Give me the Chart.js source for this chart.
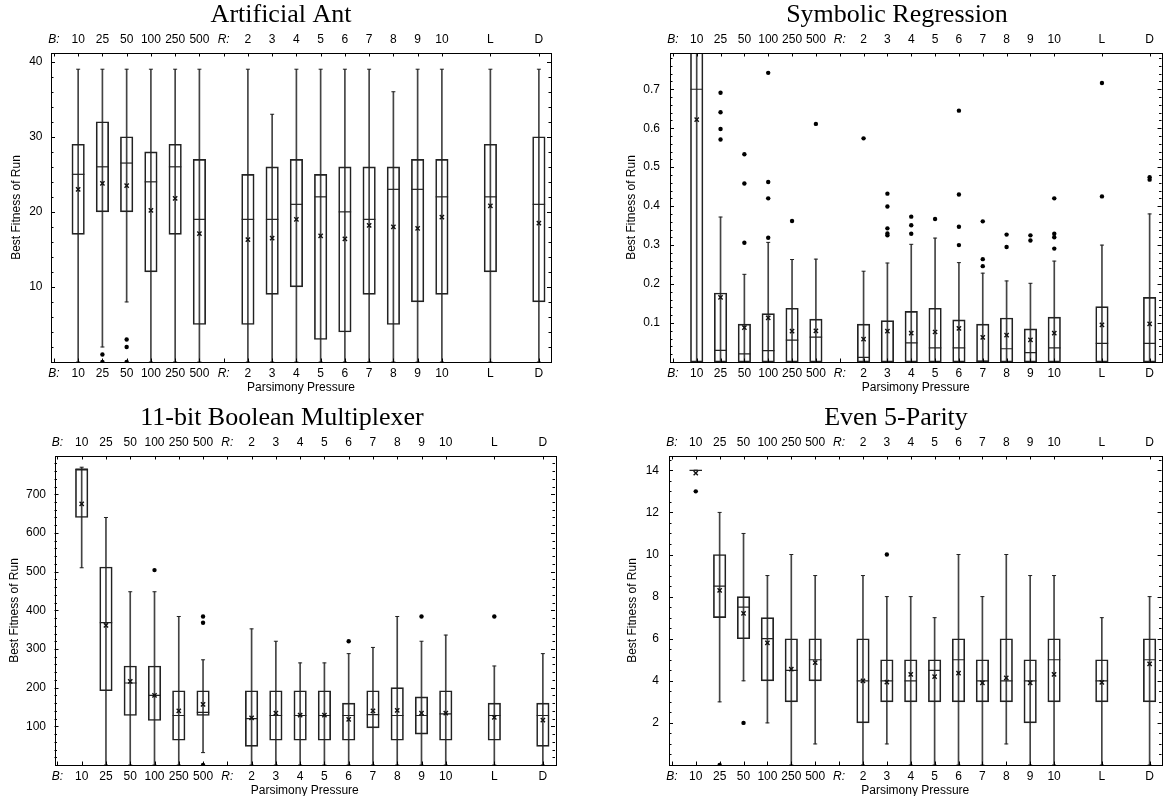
<!DOCTYPE html>
<html>
<head>
<meta charset="utf-8">
<title>Best fitness of run vs parsimony pressure</title>
<script src="https://cdn.jsdelivr.net/npm/chart.js@4.4.1/dist/chart.umd.min.js"></script>
<style>
  html, body { margin: 0; padding: 0; background: #fff; overflow: hidden; width: 1169px; height: 796px; }
  canvas { position: absolute; }
</style>
</head>
<body>
<canvas id="ant" width="580" height="395" style="left:0px;top:0px"></canvas>
<canvas id="reg" width="584" height="395" style="left:585px;top:0px"></canvas>
<canvas id="mux" width="580" height="395" style="left:0px;top:403px"></canvas>
<canvas id="par" width="584" height="395" style="left:585px;top:403px"></canvas>
<script>
// category positions on the x axis (0 = "B:", 7 = "R:")
const boxPos = [1, 2, 3, 4, 5, 6, 8, 9, 10, 11, 12, 13, 14, 15, 16, 18, 20];
const tickPos = [0, 1, 2, 3, 4, 5, 6, 7, 8, 9, 10, 11, 12, 13, 14, 15, 16, 18, 20];
const tickLabels = ['B:', '10', '25', '50', '100', '250', '500', 'R:', '2', '3', '4', '5', '6', '7', '8', '9', '10', 'L', 'D'];

// Artificial Ant
const antHi   = [39, 39, 39, 39, 39, 39, 39, 33, 39, 39, 39, 39, 36, 39, 39, 39, 39];
const antQ3   = [29, 32, 30, 28, 29, 27, 25, 26, 27, 25, 26, 26, 26, 27, 27, 29, 30];
const antMed  = [25, 26, 26.5, 24, 26, 19, 19, 19, 21, 22, 20, 19, 23, 23, 22, 22, 21];
const antQ1   = [17, 20, 20, 12, 17, 5, 5, 9, 10, 3, 4, 9, 5, 8, 9, 12, 8];
const antLo   = [0, 2, 8, 0, 0, 0, 0, 0, 0, 0, 0, 0, 0, 0, 0, 0, 0];
const antMean = [23, 23.8, 23.5, 20.2, 21.8, 17.1, 16.3, 16.5, 19.0, 16.8, 16.4, 18.2, 18.0, 17.8, 19.3, 20.8, 18.5];
const antOut  = [[2, 1], [2, 0], [3, 3], [3, 2], [3, 0]];
const antYTicks = [10, 20, 30, 40];
const antYLabels = ['10', '20', '30', '40'];

// Symbolic Regression
const regHi   = [1.0, 0.372, 0.225, 0.307, 0.263, 0.264, 0.233, 0.254, 0.302, 0.318, 0.255, 0.228, 0.208, 0.202, 0.259, 0.300, 0.380];
const regQ3   = [0.95, 0.177, 0.097, 0.124, 0.138, 0.110, 0.097, 0.106, 0.130, 0.138, 0.108, 0.097, 0.113, 0.085, 0.115, 0.142, 0.166];
const regMed  = [0.70, 0.030, 0.021, 0.029, 0.056, 0.064, 0.012, 0.0, 0.049, 0.036, 0.036, 0.002, 0.034, 0.024, 0.036, 0.048, 0.048];
const regQ1   = [0, 0, 0, 0, 0, 0, 0, 0, 0, 0, 0, 0, 0, 0, 0, 0, 0];
const regLo   = [0, 0, 0, 0, 0, 0, 0, 0, 0, 0, 0, 0, 0, 0, 0, 0, 0];
const regMean = [0.622, 0.166, 0.088, 0.113, 0.079, 0.080, 0.059, 0.079, 0.074, 0.077, 0.086, 0.063, 0.069, 0.057, 0.074, 0.095, 0.098];
const regOut  = [[2, 0.691], [2, 0.641], [2, 0.598], [2, 0.571], [3, 0.306], [3, 0.458], [3, 0.533],
  [4, 0.742], [4, 0.462], [4, 0.420], [4, 0.319], [5, 0.362], [6, 0.611], [8, 0.574],
  [9, 0.432], [9, 0.399], [9, 0.343], [9, 0.330], [9, 0.325], [10, 0.373], [10, 0.351], [10, 0.329],
  [11, 0.367], [12, 0.645], [12, 0.430], [12, 0.347], [12, 0.300], [13, 0.361], [13, 0.264], [13, 0.246],
  [14, 0.327], [14, 0.295], [15, 0.325], [15, 0.312], [16, 0.420], [16, 0.329], [16, 0.320], [16, 0.291],
  [18, 0.716], [18, 0.425], [20, 0.474], [20, 0.468]];
const regYTicks = [0.1, 0.2, 0.3, 0.4, 0.5, 0.6, 0.7];
const regYLabels = ['0.1', '0.2', '0.3', '0.4', '0.5', '0.6', '0.7'];

// 11-bit Boolean Multiplexer
const muxHi   = [770, 640, 448, 448, 384, 272, 352, 320, 264, 264, 288, 304, 384, 320, 336, 256, 288];
const muxQ3   = [765, 512, 256, 256, 192, 192, 192, 192, 192, 192, 160, 192, 200, 176, 192, 160, 160];
const muxMed  = [765, 368, 212, 180, 128, 136, 120, 128, 128, 128, 128, 130, 128, 128, 132, 128, 128];
const muxQ1   = [640, 192, 128, 115, 64, 128, 48, 64, 64, 64, 64, 96, 64, 80, 64, 64, 48];
const muxLo   = [510, 0, 0, 0, 0, 32, 0, 0, 0, 0, 0, 0, 0, 0, 0, 0, 0];
const muxMean = [675, 361, 216, 180, 140, 157, 122, 134, 129, 129, 118, 140, 141, 134, 134, 123, 116];
const muxOut  = [[4, 504], [6, 384], [6, 368], [6, 0], [12, 320], [15, 384], [18, 384]];
const muxYTicks = [100, 200, 300, 400, 500, 600, 700];
const muxYLabels = ['100', '200', '300', '400', '500', '600', '700'];

// Even 5-Parity
const parHi   = [14, 12, 11, 9, 10, 9, 9, 8, 8, 7, 10, 8, 10, 9, 9, 7, 8];
const parQ3   = [14, 10, 8, 7, 6, 6, 6, 5, 5, 5, 6, 5, 6, 5, 6, 5, 6];
const parMed  = [14, 8.5, 7.5, 6, 4.5, 5, 4, 4, 4, 4.5, 5, 4, 4, 4, 5, 4, 5];
const parQ1   = [14, 7, 6, 4, 3, 4, 2, 3, 3, 3, 3, 3, 3, 2, 3, 3, 3];
const parLo   = [14, 3, 4, 2, 0, 1, 0, 1, 0, 0, 0, 0, 1, 0, 0, 0, 0];
const parMean = [13.87, 8.3, 7.2, 5.8, 4.55, 4.86, 4.0, 3.94, 4.3, 4.2, 4.37, 3.9, 4.14, 3.9, 4.3, 3.93, 4.8];
const parOut  = [[1, 13], [2, 0], [3, 2], [9, 10]];
const parYTicks = [2, 4, 6, 8, 10, 12, 14];
const parYLabels = ['2', '4', '6', '8', '10', '12', '14'];

const SANS = "'Liberation Sans', Arial, sans-serif";
const SERIF = "'Liberation Serif', 'Times New Roman', serif";
Chart.defaults.font.family = SANS;
Chart.defaults.font.size = 12;
Chart.defaults.color = '#000';

// frame with inward tick marks, like the original plots
const frameTicks = {
  id: 'frameTicks',
  afterDatasetsDraw(chart) {
    const { ctx, chartArea: a, scales: { x, y } } = chart;
    ctx.save();
    ctx.strokeStyle = '#000';
    ctx.lineWidth = 1;
    ctx.beginPath();
    y.ticks.forEach(t => {
      const py = Math.round(y.getPixelForValue(t.value)) + 0.5;
      const len = t.label ? 4 : 2.5;
      ctx.moveTo(a.left, py); ctx.lineTo(a.left + len, py);
      ctx.moveTo(a.right, py); ctx.lineTo(a.right - len, py);
    });
    tickPos.forEach(v => {
      const px = Math.round(x.getPixelForValue(v)) + 0.5;
      ctx.moveTo(px, a.top); ctx.lineTo(px, a.top + 3.5);
      ctx.moveTo(px, a.bottom); ctx.lineTo(px, a.bottom - 3.5);
    });
    ctx.stroke();
    ctx.strokeRect(Math.round(a.left) + 0.5, Math.round(a.top) + 0.5,
      Math.round(a.right - a.left), Math.round(a.bottom - a.top));
    ctx.restore();
  }
};

function xAxis(pos, p) {
  const axis = {
    type: 'linear', position: pos, min: -0.12, max: 20.5, offset: false, bounds: 'data',
    grid: { display: false, drawTicks: false, offset: false }, border: { display: false },
    afterBuildTicks: s => { s.ticks = tickPos.map(v => ({ value: v })); },
    afterFit: s => { s.height = pos === 'top' ? 21.8 : 33; },
    ticks: {
      autoSkip: false, maxRotation: 0, minRotation: 0, padding: pos === 'top' ? 6 : 4,
      callback: (v, i) => tickLabels[i],
      font: c => ({ family: SANS, size: 12, style: c.tick && (c.tick.value === 0 || c.tick.value === 7) ? 'italic' : 'normal' })
    }
  };
  if (pos === 'bottom') {
    axis.title = { display: true, text: 'Parsimony Pressure', padding: { top: 0, bottom: 0 }, font: { family: SANS, size: 12 } };
  }
  return axis;
}

function makePanel(p) {
  const yTicks = [];
  for (let i = 1; i * p.yStep <= p.yMax; i++) yTicks.push(+(i * p.yStep).toFixed(6));
  const yLabel = v => {
    const k = p.yMajor.findIndex(m => Math.abs(m - v) < 1e-9);
    return k < 0 ? '' : p.yLabels[k];
  };
  const pts = arr => boxPos.map((x, i) => ({ x, y: arr[i] }));

  new Chart(document.getElementById(p.id), {
    type: 'bar',
    data: {
      datasets: [
        { type: 'scatter', data: p.out.map(([x, y]) => ({ x, y })), pointStyle: 'circle', pointRadius: 2.2,
          pointBackgroundColor: '#000', pointBorderColor: '#000', pointBorderWidth: 0, clip: 0 },
        { type: 'scatter', data: pts(p.mean), pointStyle: 'crossRot', pointRadius: 3,
          pointBorderColor: '#111', pointBorderWidth: 1.4, clip: 0 },
        { type: 'scatter', data: pts(p.med), pointStyle: 'line', pointRadius: 6.25,
          pointBorderColor: '#222', borderColor: '#222', pointBorderWidth: 1.2, clip: 0 },
        { type: 'scatter', data: pts(p.hi).concat(pts(p.lo)), pointStyle: 'line', pointRadius: 2,
          pointBorderColor: '#222', borderColor: '#222', pointBorderWidth: 1, clip: 0 },
        { type: 'bar', data: boxPos.map((x, i) => ({ x, y: [p.q1[i], p.q3[i]] })), barThickness: 12.5,
          backgroundColor: 'rgba(0,0,0,0)', borderColor: '#222', borderWidth: 1, borderSkipped: false,
          grouped: false, clip: 0 },
        { type: 'bar', data: boxPos.map((x, i) => ({ x, y: [p.lo[i], p.hi[i]] })), barThickness: 1,
          backgroundColor: '#444', borderWidth: 0, grouped: false, clip: 0 }
      ]
    },
    options: {
      responsive: false,
      animation: false,
      devicePixelRatio: 1,
      events: [],
      layout: { padding: { left: p.padL, right: p.padR, top: 0, bottom: 0 } },
      plugins: {
        legend: { display: false },
        tooltip: { enabled: false },
        title: { display: true, text: p.title, color: '#000', padding: { top: 0, bottom: 0 },
          font: { family: SERIF, size: 26, weight: 'normal' } }
      },
      scales: {
        x: xAxis('bottom', p),
        x2: xAxis('top', p),
        y: {
          type: 'linear', position: 'left', min: 0, max: p.yMax, bounds: 'data',
          grid: { display: false, drawTicks: false }, border: { display: false },
          afterBuildTicks: s => { s.ticks = yTicks.map(v => ({ value: v })); },
          afterFit: s => { s.width = p.yW; },
          ticks: { autoSkip: false, padding: p.tickPad, callback: v => yLabel(v), font: { family: SANS, size: 12 } },
          title: { display: true, text: 'Best Fitness of Run', padding: { top: p.yTitlePad, bottom: 0 },
            font: { family: SANS, size: 12 } }
        }
      }
    },
    plugins: [frameTicks]
  });
}

makePanel({ id: 'ant', title: 'Artificial Ant', hi: antHi, q3: antQ3, med: antMed, q1: antQ1, lo: antLo,
  mean: antMean, out: antOut, yMajor: antYTicks, yLabels: antYLabels, yMax: 41.16, yStep: 2,
  padL: 11, padR: 29, yW: 40, yTitlePad: -1.2, tickPad: 8.5 });
makePanel({ id: 'reg', title: 'Symbolic Regression', hi: regHi, q3: regQ3, med: regMed, q1: regQ1, lo: regLo,
  mean: regMean, out: regOut, yMajor: regYTicks, yLabels: regYLabels, yMax: 0.793, yStep: 0.02,
  padL: 42, padR: 2, yW: 43, yTitlePad: -2.9, tickPad: 10 });
makePanel({ id: 'mux', title: '11-bit Boolean Multiplexer', hi: muxHi, q3: muxQ3, med: muxMed, q1: muxQ1, lo: muxLo,
  mean: muxMean, out: muxOut, yMajor: muxYTicks, yLabels: muxYLabels, yMax: 799, yStep: 20,
  padL: 9, padR: 25, yW: 45.5, yTitlePad: -1.2, tickPad: 8.5 });
makePanel({ id: 'par', title: 'Even 5-Parity', hi: parHi, q3: parQ3, med: parMed, q1: parQ1, lo: parLo,
  mean: parMean, out: parOut, yMajor: parYTicks, yLabels: parYLabels, yMax: 14.68, yStep: 0.5,
  padL: 40, padR: 2, yW: 44, yTitlePad: 0.5, tickPad: 10 });
</script>
</body>
</html>
